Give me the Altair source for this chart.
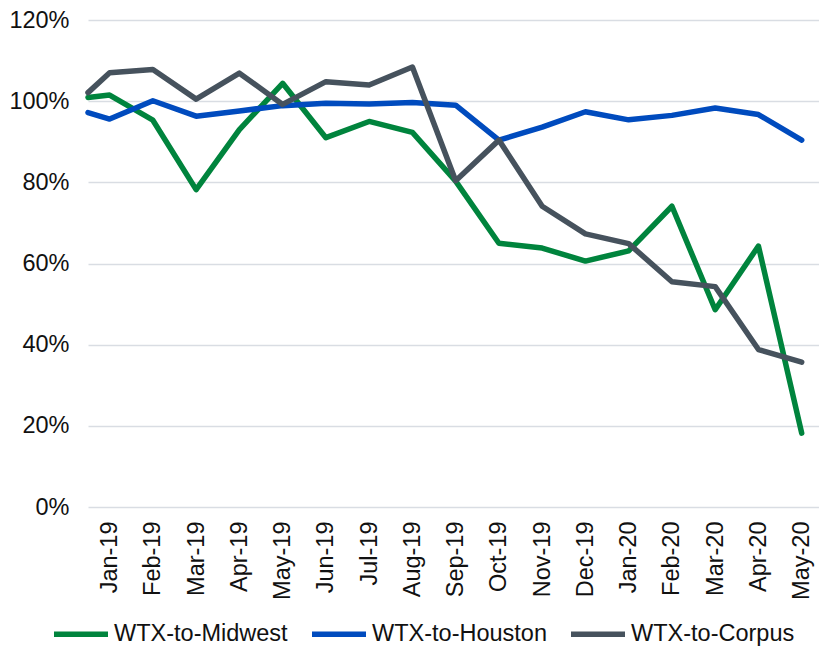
import altair as alt
import pandas as pd

# Month labels shown on the category axis
month_labels = ["Jan-19", "Feb-19", "Mar-19", "Apr-19", "May-19", "Jun-19", "Jul-19",
                "Aug-19", "Sep-19", "Oct-19", "Nov-19", "Dec-19", "Jan-20", "Feb-20",
                "Mar-20", "Apr-20", "May-20"]
# Category positions: first observation sits half a period before Jan-19
period_index = [-0.5] + list(range(len(month_labels)))

series_names = ["WTX-to-Midwest", "WTX-to-Houston", "WTX-to-Corpus"]
series_colors = ["#00843D", "#004BBE", "#46525D"]

midwest = [100.9, 101.5, 95.3, 78.2, 93.0, 104.4, 91.0, 95.0, 92.3, 80.3, 65.0,
           63.8, 60.6, 63.1, 74.1, 48.6, 64.3, 18.2]
houston = [97.2, 95.6, 100.1, 96.3, 97.6, 98.9, 99.5, 99.3, 99.7, 99.0, 90.4,
           93.6, 97.4, 95.4, 96.5, 98.3, 96.7, 90.4]
corpus = [102.1, 107.0, 107.8, 100.5, 106.9, 99.2, 104.8, 104.0, 108.4, 80.4, 90.4,
          74.1, 67.3, 64.9, 55.5, 54.3, 38.8, 35.7]

rows = []
for name, vals in zip(series_names, [midwest, houston, corpus]):
    for i, v in zip(period_index, vals):
        rows.append({"period": i, "value": v / 100.0, "series": name})
df = pd.DataFrame(rows)

label_expr = "[" + ",".join("'%s'" % m for m in month_labels) + "][datum.value]"

FONT = "Liberation Sans"
FS = 23.5

chart = alt.Chart(df).mark_line(
    strokeWidth=5.5, strokeJoin="round", strokeCap="round"
).encode(
    x=alt.X("period:Q",
            scale=alt.Scale(domain=[-0.5, 16.4], nice=False, zero=False),
            axis=alt.Axis(values=list(range(len(month_labels))), labelExpr=label_expr,
                          labelAngle=270, labelPadding=14, grid=False, domain=False,
                          ticks=False, title=None, labelFont=FONT, labelFontSize=FS,
                          labelColor="#111111", labelOverlap=False)),
    y=alt.Y("value:Q",
            scale=alt.Scale(domain=[0, 1.2], nice=False),
            axis=alt.Axis(values=[0, 0.2, 0.4, 0.6, 0.8, 1.0, 1.2], format=".0%",
                          labelPadding=19, domain=False, ticks=False, title=None,
                          gridColor="#D9DDE3", gridWidth=1.5, labelFont=FONT,
                          labelFontSize=FS, labelColor="#111111")),
    color=alt.Color("series:N",
                    scale=alt.Scale(domain=series_names, range=series_colors),
                    legend=alt.Legend(title=None, orient="none", direction="horizontal",
                                      legendX=-37, legendY=584,
                                      symbolType="stroke", symbolSize=2916,
                                      symbolStrokeWidth=5.5, labelOffset=3,
                                      columnPadding=13, labelFont=FONT,
                                      labelFontSize=FS, labelColor="#111111",
                                      labelLimit=0, padding=0)),
).properties(
    width=731, height=487,
    autosize=alt.AutoSizeParams(type="none"),
    padding={"left": 80, "top": 12, "right": 0, "bottom": 140},
).configure_view(stroke=None)

chart.save("out.html", embed_options={"renderer": "svg", "actions": False})
